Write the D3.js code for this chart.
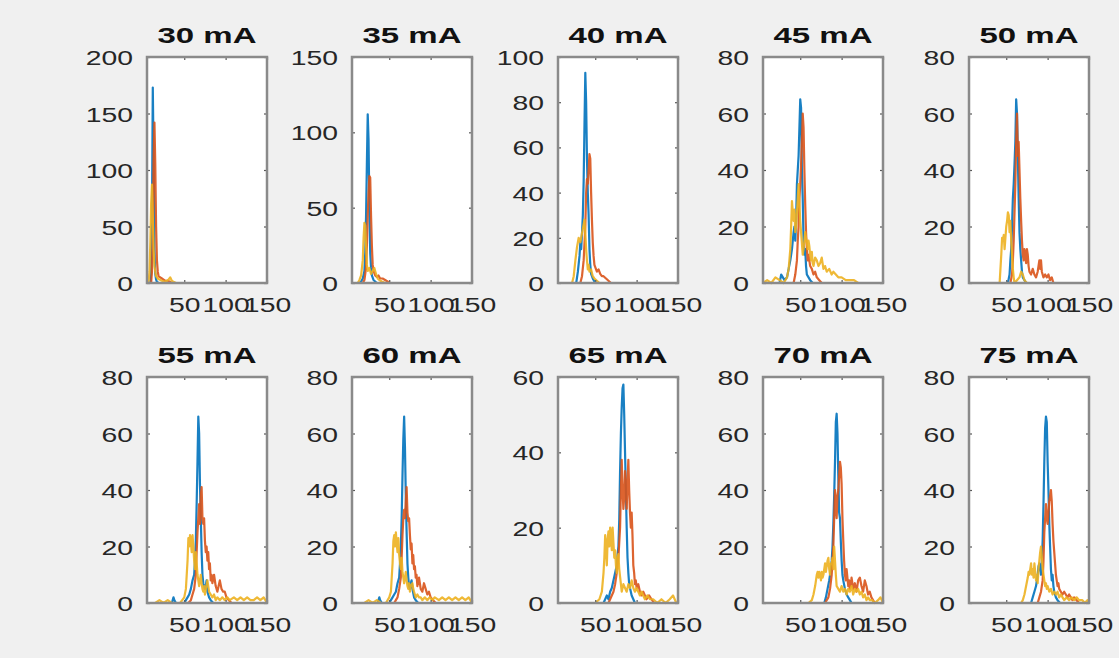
<!DOCTYPE html>
<html>
<head>
<meta charset="utf-8">
<script src="https://cdnjs.cloudflare.com/ajax/libs/d3/7.8.5/d3.min.js"></script>
<style>
  body { margin: 0; background: #f0f0f0; }
  #vis text { font-family: "Liberation Sans", Arial, sans-serif; }
</style>
</head>
<body>
<div id="vis"></div>
<script>
(function run(){

  // panel titles (mA) and y axis settings
  var currents = [30, 35, 40, 45, 50, 55, 60, 65, 70, 75];
  var yMax = [200, 150, 100, 80, 80, 80, 80, 60, 80, 80];
  var yTicks = [
    [0, 50, 100, 150, 200],
    [0, 50, 100, 150],
    [0, 20, 40, 60, 80, 100],
    [0, 20, 40, 60, 80],
    [0, 20, 40, 60, 80],
    [0, 20, 40, 60, 80],
    [0, 20, 40, 60, 80],
    [0, 20, 40, 60],
    [0, 20, 40, 60, 80],
    [0, 20, 40, 60, 80]
  ];
  var xDomain = [5, 150];
  var xTicks = [50, 100, 150];

  // blue series, one list of [x, count] per panel
  var blueSeries = [
    [[5,0],[9,0],[10,8],[11,60],[12,173],[13,110],[14,30],[15,8],[16,3],[17,1],[19,0],[150,0]],
    [[5,0],[14,0],[16,1],[18,3],[20,8],[21,20],[22,45],[23,80],[24,112],[25,95],[26,50],[27,20],[28,10],[29,5],[31,2],[33,1],[35,0],[150,0]],
    [[5,0],[27,0],[29,5],[31,12],[32,18],[33,15],[34,22],[35,30],[36,45],[37,70],[38,93],[39,80],[40,55],[41,40],[42,30],[43,15],[44,8],[45,4],[47,2],[50,0],[150,0]],
    [[5,0],[25,0],[27,3],[29,2],[31,1],[34,2],[36,5],[38,8],[40,12],[42,18],[43,20],[44,15],[45,22],[46,35],[47,40],[48,45],[49,55],[50,65],[51,62],[52,40],[53,30],[54,15],[55,10],[56,12],[57,6],[58,3],[60,2],[62,1],[65,0],[150,0]],
    [[5,0],[52,0],[54,3],[55,8],[56,12],[57,20],[58,30],[59,35],[60,42],[61,50],[62,65],[63,60],[64,45],[65,30],[66,18],[67,12],[68,8],[69,4],[70,2],[72,1],[74,0],[150,0]],
    [[5,0],[35,0],[37,2],[38,1],[40,0],[50,0],[52,1],[54,2],[56,3],[58,5],[60,8],[62,10],[63,15],[64,22],[65,35],[66,50],[67,66],[68,60],[69,42],[70,30],[71,18],[72,10],[73,7],[74,6],[75,5],[76,6],[77,8],[78,4],[80,2],[82,1],[85,0],[150,0]],
    [[5,0],[36,0],[38,2],[39,1],[41,0],[50,0],[52,1],[54,2],[56,3],[58,4],[60,7],[62,9],[63,14],[64,20],[65,30],[66,45],[67,58],[68,66],[69,55],[70,38],[71,25],[72,14],[73,9],[74,6],[75,5],[76,7],[77,8],[78,5],[80,2],[82,1],[85,0],[150,0]],
    [[5,0],[60,0],[62,1],[64,2],[66,1],[68,3],[70,4],[72,6],[74,8],[76,10],[77,13],[78,15],[79,22],[80,35],[81,45],[82,52],[83,57],[84,58],[85,50],[86,40],[87,30],[88,20],[89,12],[90,8],[91,5],[92,4],[94,2],[96,1],[98,0],[150,0]],
    [[5,0],[79,0],[81,2],[83,5],[85,8],[87,12],[88,15],[89,20],[90,28],[91,38],[92,50],[93,64],[94,67],[95,60],[96,45],[97,32],[98,30],[99,22],[100,15],[101,10],[102,8],[104,5],[106,3],[108,2],[110,1],[112,0],[150,0]],
    [[5,0],[80,0],[82,2],[84,4],[86,6],[88,10],[89,13],[90,14],[91,12],[92,10],[93,15],[94,22],[95,35],[96,50],[97,62],[98,66],[99,64],[100,50],[101,40],[102,28],[103,20],[104,12],[105,8],[106,10],[107,6],[108,4],[110,2],[112,1],[115,0],[150,0]]
  ];

  var orangeSeries = [
    [[5,0],[10,0],[11,10],[12,40],[13,110],[14,142],[15,105],[16,50],[17,20],[18,10],[19,6],[21,5],[23,4],[25,3],[27,2],[30,2],[33,1],[35,0],[150,0]],
    [[5,0],[18,0],[20,2],[22,10],[23,25],[24,45],[25,60],[26,71],[27,70],[28,45],[29,25],[30,12],[31,8],[33,5],[35,4],[37,5],[39,3],[42,3],[45,2],[48,1],[51,0],[150,0]],
    [[5,0],[32,0],[34,3],[36,10],[38,25],[39,40],[40,46],[41,44],[42,50],[43,57],[44,55],[45,40],[46,28],[47,18],[48,12],[49,8],[50,7],[52,5],[54,6],[56,4],[58,3],[60,3],[63,2],[66,1],[69,0],[150,0]],
    [[5,0],[42,0],[44,3],[46,8],[47,15],[48,20],[49,30],[50,35],[51,42],[52,50],[53,60],[54,55],[55,40],[56,28],[57,18],[58,12],[59,8],[60,10],[62,6],[64,5],[66,3],[68,4],[70,2],[73,1],[76,0],[150,0]],
    [[5,0],[55,0],[57,3],[58,8],[59,15],[60,25],[61,35],[62,50],[63,60],[64,45],[65,50],[66,40],[67,30],[68,22],[69,15],[70,10],[71,8],[72,12],[73,10],[74,7],[75,12],[76,10],[77,6],[78,4],[80,3],[82,5],[84,3],[86,2],[88,4],[90,8],[91,5],[92,8],[93,4],[95,2],[97,3],[99,2],[101,3],[103,1],[105,2],[107,0],[150,0]],
    [[5,0],[55,0],[58,1],[60,3],[62,5],[64,10],[65,18],[66,25],[67,30],[68,35],[69,28],[70,38],[71,41],[72,30],[73,28],[74,30],[75,22],[76,18],[77,20],[78,15],[79,18],[80,12],[81,14],[82,8],[83,10],[84,7],[86,10],[88,6],[90,4],[93,8],[95,5],[97,4],[99,4],[101,2],[104,1],[107,0],[150,0]],
    [[5,0],[56,0],[58,1],[60,2],[62,5],[64,9],[65,16],[66,24],[67,30],[68,33],[69,30],[70,36],[71,41],[72,32],[73,29],[74,30],[75,24],[76,19],[77,21],[78,14],[79,17],[80,12],[81,13],[82,9],[83,10],[84,6],[86,9],[88,5],[90,4],[92,7],[94,5],[96,3],[98,4],[100,2],[103,1],[106,0],[150,0]],
    [[5,0],[66,0],[68,1],[70,2],[72,3],[74,5],[76,8],[78,12],[80,20],[81,30],[82,38],[83,30],[84,25],[85,28],[86,35],[87,30],[88,25],[89,32],[90,38],[91,30],[92,24],[93,20],[94,24],[95,18],[96,10],[97,8],[98,5],[99,6],[100,4],[102,5],[104,3],[106,2],[108,3],[110,2],[112,1],[115,2],[118,1],[121,0],[150,0]],
    [[5,0],[80,0],[82,1],[84,2],[86,5],[88,10],[90,20],[91,30],[92,40],[93,35],[94,30],[95,38],[96,40],[97,45],[98,50],[99,48],[100,42],[101,30],[102,22],[103,15],[104,10],[105,8],[106,12],[107,9],[108,6],[109,8],[110,5],[111,6],[112,9],[113,7],[114,5],[116,7],[118,4],[120,8],[122,9],[124,6],[126,4],[128,8],[130,6],[132,3],[134,4],[136,2],[138,1],[140,0],[150,0]],
    [[5,0],[88,0],[90,2],[92,4],[94,8],[95,15],[96,25],[97,30],[98,35],[99,30],[100,28],[101,32],[102,36],[103,38],[104,40],[105,36],[106,28],[107,22],[108,18],[109,14],[110,10],[111,8],[112,6],[113,7],[114,5],[116,4],[118,3],[120,4],[122,3],[124,2],[126,3],[128,2],[130,1],[132,2],[135,1],[138,0],[150,0]]
  ];

  var yellowSeries = [
    [[5,0],[7,2],[8,10],[9,35],[10,70],[11,87],[12,60],[13,30],[14,15],[15,10],[16,6],[18,4],[20,3],[23,2],[26,1],[29,2],[31,3],[33,5],[35,2],[37,1],[40,0],[150,0]],
    [[5,0],[12,0],[14,2],[16,5],[18,15],[19,30],[20,40],[21,38],[22,25],[23,12],[24,8],[26,10],[28,6],[30,8],[32,10],[34,6],[36,3],[38,2],[41,1],[45,0],[150,0]],
    [[5,0],[22,0],[24,3],[26,10],[28,16],[30,20],[32,18],[34,22],[36,26],[37,28],[38,22],[39,15],[40,10],[41,6],[42,8],[43,5],[45,6],[47,3],[49,2],[52,1],[55,0],[150,0]],
    [[5,0],[10,1],[15,0],[20,2],[25,1],[30,0],[34,2],[36,5],[38,12],[39,20],[40,29],[41,25],[42,22],[43,26],[44,18],[45,20],[46,25],[47,30],[48,35],[49,28],[50,22],[51,18],[52,14],[53,10],[54,12],[55,15],[56,18],[57,16],[58,14],[59,12],[60,15],[61,13],[62,10],[63,8],[64,11],[65,7],[66,6],[68,9],[70,8],[72,6],[74,7],[76,9],[78,5],[80,6],[82,4],[85,5],[88,3],[90,4],[93,3],[96,2],[100,2],[105,1],[110,1],[115,1],[120,0],[150,0]],
    [[5,0],[42,0],[43,5],[44,10],[45,16],[46,15],[47,17],[48,12],[49,16],[50,20],[51,22],[52,25],[53,24],[54,18],[55,22],[56,15],[57,10],[58,5],[59,2],[60,0],[63,1],[66,2],[68,4],[70,3],[72,1],[75,0],[150,0]],
    [[5,0],[15,0],[20,1],[25,0],[30,1],[35,0],[45,0],[50,2],[52,5],[54,15],[55,23],[56,20],[57,24],[58,22],[59,18],[60,24],[61,20],[62,15],[63,12],[64,18],[65,14],[66,10],[67,8],[68,6],[69,8],[70,10],[71,7],[72,5],[73,4],[74,6],[75,3],[76,5],[78,8],[79,6],[80,4],[82,3],[84,2],[86,3],[88,1],[90,2],[93,1],[96,2],[99,1],[102,2],[105,1],[110,2],[114,1],[118,2],[122,1],[126,2],[130,1],[134,1],[138,2],[142,1],[146,2],[148,1],[150,0]],
    [[5,0],[20,0],[25,1],[30,0],[35,1],[40,0],[46,0],[50,2],[52,4],[54,14],[55,22],[56,24],[57,20],[58,25],[59,21],[60,18],[61,23],[62,17],[63,14],[64,12],[65,16],[66,11],[67,9],[68,7],[69,9],[70,11],[71,8],[72,6],[73,5],[74,7],[75,4],[76,6],[78,7],[79,5],[80,4],[82,2],[84,3],[86,2],[88,2],[90,1],[93,2],[96,1],[99,2],[102,1],[105,2],[110,1],[114,2],[118,1],[122,2],[126,1],[130,2],[134,1],[138,2],[142,1],[146,2],[148,1],[150,0]],
    [[5,0],[50,0],[55,1],[58,3],[60,8],[61,12],[62,18],[63,15],[64,10],[65,17],[66,19],[67,15],[68,20],[69,18],[70,14],[71,20],[72,16],[73,12],[74,14],[75,10],[76,8],[77,12],[78,13],[79,9],[80,7],[81,5],[82,3],[84,5],[86,4],[88,3],[90,5],[92,4],[94,6],[96,4],[98,3],[100,4],[102,3],[104,2],[106,3],[108,2],[110,1],[113,2],[116,1],[120,1],[125,0],[130,1],[135,0],[140,1],[144,2],[146,1],[148,0],[150,0]],
    [[5,0],[60,0],[64,1],[66,3],[68,6],[70,10],[71,11],[72,9],[73,11],[74,10],[75,8],[76,11],[77,9],[78,10],[79,12],[80,14],[81,11],[82,13],[83,15],[84,16],[85,12],[86,10],[87,14],[88,14],[89,16],[90,12],[91,20],[92,15],[93,10],[94,6],[96,5],[98,4],[100,6],[102,4],[104,5],[106,3],[108,5],[110,4],[112,6],[114,3],[116,5],[118,4],[120,5],[122,3],[124,4],[126,2],[128,3],[130,1],[132,2],[134,1],[137,1],[140,0],[144,1],[147,2],[150,0]],
    [[5,0],[68,0],[70,1],[72,3],[74,6],[76,9],[77,11],[78,10],[79,12],[80,14],[81,10],[82,12],[83,9],[84,14],[85,11],[86,8],[87,10],[88,7],[89,12],[90,15],[91,18],[92,20],[93,16],[94,12],[95,10],[96,8],[97,6],[98,7],[99,5],[100,6],[102,4],[104,5],[106,3],[108,4],[110,3],[112,4],[114,2],[116,3],[118,2],[120,1],[123,2],[126,1],[129,2],[132,1],[135,2],[138,1],[142,1],[145,0],[148,1],[150,0]]
  ];

  var seriesColors = ["#0072BD", "#D95319", "#EDB120"];


  var W = 1119, H = 658;
  var plotW = 120, plotH = 226;
  var colLeft = [147, 352, 558, 763, 969];
  var rowTop = [57, 377];
  var tickScale = 1.35;

  var svg = d3.select("#vis")
    .append("svg")
      .attr("width", W)
      .attr("height", H)

  svg.append("rect")
    .attr("width", W)
    .attr("height", H)
    .attr("fill", "#f0f0f0");


  currents.forEach(function(cur, i) {

    var left = colLeft[i % 5];
    var top = rowTop[Math.floor(i / 5)];

    var g = svg.append("g")
      .attr("transform", "translate(" + left + "," + top + ")");

    var x = d3.scaleLinear()
      .domain(xDomain)
      .range([0, plotW]);

    var y = d3.scaleLinear()
      .domain([0, yMax[i]])
      .range([plotH, 0]);

    g.append("rect")
      .attr("width", plotW)
      .attr("height", plotH)
      .attr("fill", "#fff");

    var line = d3.line()
      .x(function(d) { return x(d[0]); })
      .y(function(d) { return y(d[1]); });

    [blueSeries[i], orangeSeries[i], yellowSeries[i]].forEach(function(s, k) {
      g.append("path")
        .datum(s)
        .attr("fill", "none")
        .attr("stroke", seriesColors[k])
        .attr("stroke-width", 2.2)
        .attr("stroke-opacity", 0.9)
        .attr("stroke-linejoin", "round")
        .attr("d", line);
    });

    // ticks on all four sides, pointing inward
    var yAxis = d3.axisLeft(y).tickValues(yTicks[i]).tickSizeInner(-3).tickSizeOuter(0);
    var yAxisR = d3.axisRight(y).tickValues(yTicks[i]).tickSizeInner(-3).tickSizeOuter(0).tickFormat("");
    var xAxis = d3.axisBottom(x).tickValues(xTicks).tickSizeInner(-3).tickSizeOuter(0);
    var xAxisT = d3.axisTop(x).tickValues(xTicks).tickSizeInner(-3).tickSizeOuter(0).tickFormat("");

    var ya = g.append("g").attr("class", "y axis").call(yAxis);
    g.append("g").attr("transform", "translate(" + plotW + ",0)").call(yAxisR);
    var xa = g.append("g").attr("class", "x axis")
      .attr("transform", "translate(0," + plotH + ")").call(xAxis);
    g.append("g").call(xAxisT);

    g.selectAll(".domain").remove();
    g.selectAll(".tick line").attr("stroke", "#555").attr("stroke-width", 1.2);

    ya.selectAll("text")
      .attr("x", -14 / tickScale)
      .attr("dy", "0.36em")
      .attr("transform", "scale(" + tickScale + ",1)")
      .style("font-size", "21px")
      .attr("fill", "#262626");

    xa.selectAll("text")
      .attr("y", 29)
      .attr("dy", 0)
      .attr("transform", "scale(" + tickScale + ",1)")
      .style("font-size", "21px")
      .attr("fill", "#262626");

    g.append("rect")
      .attr("width", plotW)
      .attr("height", plotH)
      .attr("fill", "none")
      .attr("stroke", "#8a8a8a")
      .attr("stroke-width", 2.5);

    g.append("text")
      .attr("transform", "translate(" + (plotW / 2) + "," + (-14) + ") scale(1.5,1)")
      .attr("text-anchor", "middle")
      .style("font-size", "22px")
      .style("font-weight", "bold")
      .attr("fill", "#111")
      .text(cur + " mA");

  });

})();
</script>
</body>
</html>
